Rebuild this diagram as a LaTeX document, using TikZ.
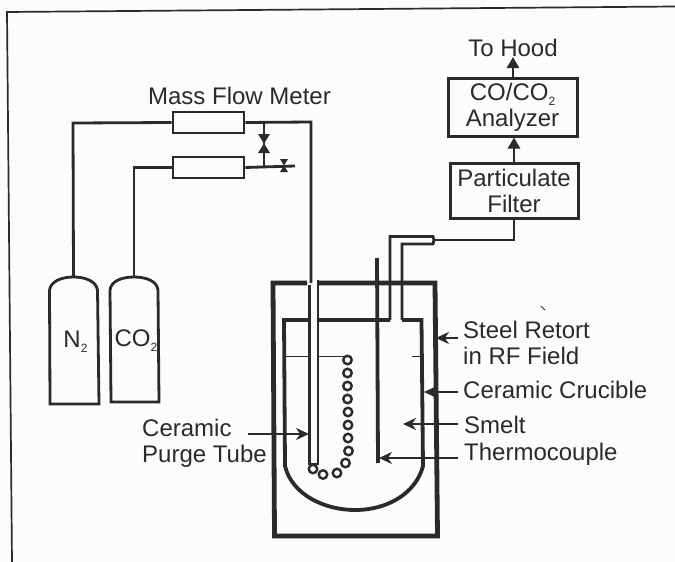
\documentclass[tikz,border=0pt]{standalone}
\usepackage{fontspec}
\setmainfont{Liberation Sans}
\usetikzlibrary{arrows.meta,calc}
\definecolor{ink}{HTML}{2A2A2A}
\definecolor{paper}{HTML}{FCFCFB}
\newcommand{\subtwo}{\smash{\raisebox{-.22em}{\fontsize{12}{12}\selectfont 2}}}
\tikzset{
  lbl/.style={text=ink,inner sep=0pt,font=\fontsize{24}{26}\selectfont},
  unit/.style={draw=ink,line width=3pt,text=ink,inner sep=0pt,align=center,font=\fontsize{24}{26}\selectfont},
  meter/.style={draw=ink,line width=2.8pt,minimum width=71pt,minimum height=21pt,inner sep=0pt},
  pipe/.style={draw=ink,line width=2.8pt},
  wall/.style={draw=ink,line width=4.8pt},
  cruc/.style={draw=ink,line width=3.8pt},
  tank/.style={draw=ink,line width=2.8pt},
  pointer/.style={draw=ink,line width=2.2pt,-{Stealth[length=13pt,width=12pt]}},
  uparrow/.style={draw=ink,line width=2.6pt,-{Triangle[length=11pt,width=12pt]}},
  coil/.style={draw=ink,line width=2.4pt,fill=paper,circle,minimum size=8.5pt,inner sep=0pt},
}
\begin{document}
\begin{tikzpicture}[x=1pt,y=-1pt]
\useasboundingbox (0,0) rectangle (675,562);
\fill[paper] (0,0) rectangle (675,562);
% scan frame
\draw[ink,line width=1.7pt] (675,6.5) -- (7,12) -- (12,562);
% named points
\coordinate (n2top) at (73.5,277);
\coordinate (co2top) at (134,277);
\coordinate (n2corner) at (73,123);
\coordinate (co2corner) at (134,167.5);
\coordinate (gasdrop) at (311,122);
\coordinate (tubetop) at (311,283);
\coordinate (bypassA) at (264,122);
\coordinate (bypassB) at (264,166);
\coordinate (ventend) at (295,166);
% cylinders
\draw[tank] (50,404) -- (49.5,290) .. controls (51,281) and (62,277) .. (73.5,277) .. controls (85,277) and (96,281) .. (97.5,290) -- (99,404) -- cycle;
\draw[tank] (111,402) -- (110,290) .. controls (111,281) and (122,277) .. (134,277) .. controls (146,277) and (157,281) .. (158,290) -- (159,402) -- cycle;
\node[lbl] (n2) at (75.5,339) {N\subtwo};
\node[lbl] (co2) at (136,338) {CO\subtwo};
% flow meters
\node[lbl] (mfmlabel) at (239.5,96) {Mass Flow Meter};
\node[meter] (mf1) at (208.5,122.5) {};
\node[meter] (mf2) at (208.5,167.5) {};
\draw[pipe] (n2top) -- (n2corner) -- (mf1.west);
\draw[pipe] (co2top) -- (co2corner) -- (mf2.west);
\draw[pipe] (mf1.east) -- (gasdrop) -- (tubetop);
\draw[pipe] (mf2.east) -- (ventend);
\draw[pipe] (bypassA) -- (bypassB);
% valves
\fill[ink] (258,134) -- (270,134) -- (258,153) -- (270,153) -- cycle;
\fill[ink] (280,159) -- (288,159) -- (280,172) -- (288,172) -- cycle;
% retort
\draw[wall] (307,283) -- (273,283) -- (274.5,536) -- (437.5,536) -- (435,283) -- (317,283);
% crucible
\draw[cruc] (390,320) -- (284,320) -- (285,466) .. controls (292,495) and (325,510) .. (355,510) .. controls (388,510) and (416,493) .. (423,466) -- (421.5,320) -- (402,320);
% smelt surface
\draw[ink,line width=.7pt] (286,356) -- (347,356);
\draw[ink,line width=.7pt] (412,356) -- (420,356);
% ceramic purge tube
\fill[paper] (309.5,284) rectangle (318,464);
\draw[pipe] (309.5,285) -- (309.5,464) -- (318,464) -- (318,280);
% coil
\foreach \cx/\cy [count=\ci] in {347.5/360,347.5/373,347.5/386,347.5/399,348/412,348/425,348/438,348.5/451,345.5/463,337/473,323/474.5,313/469}{
  \node[coil] (c\ci) at (\cx,\cy) {};
}
% thermocouple
\draw[ink,line width=3.8pt] (377,258) -- (378,463);
% outlet tube
\draw[pipe] (390,320) -- (390,236.5) -- (433,236.5) -- (434,240) -- (433,244) -- (402,244) -- (402,320);
% gas train
\node[unit,minimum width=129pt,minimum height=58pt] (analyzer) at (512.5,107) {CO/CO\subtwo\\Analyzer};
\node[unit,minimum width=128pt,minimum height=55pt] (filter) at (514,190.5) {Particulate\\Filter};
\node[lbl] (hood) at (513,48) {To Hood};
\coordinate (outlet) at (434,240);
\draw[pipe] (outlet) -- (filter.south |- outlet) -- (filter.south);
\draw[uparrow] (filter.north) -- (filter.north |- analyzer.south);
\draw[uparrow] (analyzer.north -| 513,0) -- (513,57);
% labels
\node[lbl,anchor=west,align=left] (retort) at (463,343) {Steel Retort\\in RF Field};
\node[lbl,anchor=west] (crucible) at (463,390) {Ceramic Crucible};
\node[lbl,anchor=west] (smelt) at (464,425) {Smelt};
\node[lbl,anchor=west] (thermo) at (464,454) {Thermocouple};
\node[lbl,align=left,anchor=west] (purge) at (142,443.5) {Ceramic\\Purge Tube};
% pointers
\coordinate (ptR) at (436,338);
\coordinate (ptC) at (424,392);
\coordinate (ptS) at (403,424);
\coordinate (ptT) at (379,458);
\coordinate (ptP) at (309,434);
\coordinate (ptPstart) at (248,434);
\draw[pointer] (458,338) -- (ptR);
\draw[pointer] (458,392) -- (ptC);
\draw[pointer] (458,424) -- (ptS);
\draw[pointer] (458,458) -- (ptT);
\draw[pointer] (ptPstart) -- (ptP);
% speck
\draw[ink,line width=1pt] (541,306) -- (545,310);
\end{tikzpicture}
\end{document}
